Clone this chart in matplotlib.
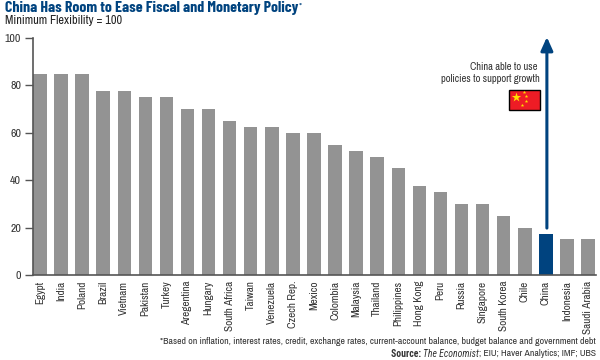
import matplotlib
matplotlib.use("Agg")
import matplotlib.pyplot as plt
from matplotlib.patches import Rectangle

BASE_FONT = ["Archivo Narrow", "Roboto Condensed", "Liberation Sans", "DejaVu Sans"]
BOLD_FONT = ["Roboto Condensed", "Liberation Sans", "DejaVu Sans"]
TITLE_FONT = ["Barlow Condensed", "Roboto Condensed", "Liberation Sans", "DejaVu Sans"]
plt.rcParams["font.family"] = BASE_FONT

COUNTRIES = ["Egypt", "India", "Poland", "Brazil", "Vietnam", "Pakistan", "Turkey",
             "Aregentina", "Hungary", "South Africa", "Taiwan", "Venezuela", "Czech Rep.",
             "Mexico", "Colombia", "Malaysia", "Thailand", "Philippines", "Hong Kong",
             "Peru", "Russia", "Singapore", "South Korea", "Chile", "China", "Indonesia",
             "Saudi Arabia"]
SCORES = [85, 85, 85, 77.5, 77.5, 75, 75, 70, 70, 65, 62.5, 62.5, 60, 60, 55, 52.5,
          50, 45, 37.5, 35, 30, 30, 25, 20, 17.5, 15, 15]
YTICKS = [0, 20, 40, 60, 80, 100]

GREY = "#939393"
NAVY = "#00437f"
TXT = "#333333"
W, H = 600, 360

fig = plt.figure(figsize=(6, 3.6), dpi=100)
ax = fig.add_axes([33 / W, 1 - 275 / H, (596 - 33) / W, (275 - 38) / H])

colors = [NAVY if c == "China" else GREY for c in COUNTRIES]
ax.bar(range(len(COUNTRIES)), SCORES, width=0.64, color=colors)
ax.set_xlim(-0.33, 26.38)
ax.set_ylim(0, 100)

for s in ("top", "right"):
    ax.spines[s].set_visible(False)
for s in ("left", "bottom"):
    ax.spines[s].set_color("#555555")
    ax.spines[s].set_linewidth(1.2)

ax.set_yticks(YTICKS)
ax.tick_params(axis="y", length=5.5, width=1, color="#555555", labelsize=8.5,
               labelcolor=TXT, pad=3)
ax.set_xticks(range(len(COUNTRIES)))
ax.set_xticklabels(COUNTRIES, rotation=90, fontsize=8, color=TXT)
ax.tick_params(axis="x", length=0, pad=4)

# arrow from the China bar to the top of the chart
ax.annotate("", xy=(24.05, 100.4), xytext=(24.05, 19.8), annotation_clip=False,
            arrowprops=dict(arrowstyle="-|>,head_width=0.36,head_length=0.8",
                            color=NAVY, lw=2.2, shrinkA=0, shrinkB=0))

fig.text(537 / W, 1 - 67 / H, "China able to use", ha="right", va="center",
         fontsize=7.6, color=TXT)
fig.text(540 / W, 1 - 79 / H, "policies to support growth", ha="right", va="center",
         fontsize=7.6, color=TXT)

# flag, drawn in figure pixels
ov = fig.add_axes([0, 0, 1, 1], facecolor="none")
ov.set_xlim(0, W)
ov.set_ylim(H, 0)
ov.axis("off")
ov.add_patch(Rectangle((509, 90), 30.5, 19.5, facecolor="#ee1c25", edgecolor="black", lw=1))
ov.scatter([516], [97], marker="*", s=50, color="#ffde00", linewidths=0)
ov.scatter([524, 526, 526, 522], [92, 96, 101, 105], marker="*", s=7, color="#ffde00",
           linewidths=0)

fig.text(5 / W, 1 - 8 / H, "China Has Room to Ease Fiscal and Monetary Policy", ha="left",
         va="center", fontsize=11.4, fontweight="bold", color=NAVY, family=TITLE_FONT)
fig.text(299 / W, 1 - 6 / H, "*", ha="left", va="center", fontsize=7, color=NAVY)
fig.text(5 / W, 1 - 21 / H, "Minimum Flexibility = 100", ha="left", va="center",
         fontsize=8.9, color="#222222")

fig.text(596 / W, 1 - 342 / H,
         "*Based on inflation, interest rates, credit, exchange rates, current-account "
         "balance, budget balance and government debt",
         ha="right", va="center", fontsize=7.05, color=TXT)

# source line is three styles, laid out right to left
x = 596
rend = fig.canvas.get_renderer()
for txt, kw in (("; EIU; Haver Analytics; IMF; UBS", {}),
                ("The Economist", {"style": "italic", "family": BOLD_FONT}),
                ("Source: ", {"fontweight": "bold", "family": BOLD_FONT})):
    t = fig.text(x / W, 1 - 354 / H, txt, ha="right", va="center", fontsize=7, color=TXT, **kw)
    x -= t.get_window_extent(rend).width

fig.savefig("out.png", dpi=100)
